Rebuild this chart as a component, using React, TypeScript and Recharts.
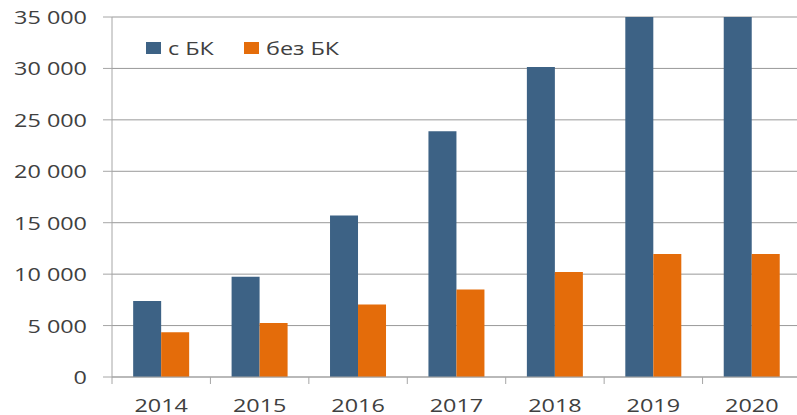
import React from 'react'
import { BarChart, Bar, XAxis, YAxis, CartesianGrid, Legend } from 'recharts'

// values
const years = ['2014', '2015', '2016', '2017', '2018', '2019', '2020']
const withBK = [7400, 9750, 15700, 23900, 30150, 35000, 35000]
const withoutBK = [4350, 5250, 7050, 8500, 10200, 11950, 11950]
const yTicks = [0, 5000, 10000, 15000, 20000, 25000, 30000, 35000]
const seriesNames = ['с БК', 'без БК']

const data = years.map((year, i) => ({ year, a: withBK[i], b: withoutBK[i] }))

const BLUE = '#3d6285'
const ORANGE = '#e46c0a'
const TEXT = '#404040'
const AXIS = '#a6a6a6'
const FONT = '"Open Sans", sans-serif'

const CHART_W = 810
const PLOT_LEFT = 112
const PLOT_RIGHT = 801
const BAND = (PLOT_RIGHT - PLOT_LEFT) / years.length

const fmt = (v: number) => String(v).replace(/\B(?=(\d{3})+(?!\d))/g, ' ')

const YTick = (props: any) => {
  const { x, y, payload } = props
  return (
    <g>
      <line x1={x - 9} x2={x} y1={y} y2={y} stroke={AXIS} />
      <text
        transform={`translate(${x - 25},${y + 7}) scale(1.3,1)`}
        textAnchor="end"
        fontSize={18}
        fontFamily={FONT}
        fill={TEXT}
      >
        {fmt(payload.value)}
      </text>
    </g>
  )
}

const XTick = (props: any) => {
  const { x, y, payload, index } = props
  return (
    <g>
      <line x1={x - BAND / 2} x2={x - BAND / 2} y1={y} y2={y + 7} stroke={AXIS} />
      {index === years.length - 1 && (
        <line x1={x + BAND / 2} x2={x + BAND / 2} y1={y} y2={y + 7} stroke={AXIS} />
      )}
      <text
        transform={`translate(${x},${y + 35}) scale(1.3,1)`}
        textAnchor="middle"
        fontSize={18}
        fontFamily={FONT}
        fill={TEXT}
      >
        {payload.value}
      </text>
    </g>
  )
}

const LegendBox = () => (
  <div style={{ position: 'relative', width: 220, height: 0 }}>
    {seriesNames.map((name, i) => (
      <div
        key={name}
        style={{ position: 'absolute', left: i * 98, top: 0, display: 'flex', alignItems: 'center', height: 20 }}
      >
        <span style={{ display: 'inline-block', width: 15, height: 12, background: i === 0 ? BLUE : ORANGE }} />
        <span
          style={{
            display: 'inline-block',
            marginLeft: 7,
            fontFamily: FONT,
            fontSize: 18,
            color: TEXT,
            transform: 'scaleX(1.3)',
            transformOrigin: 'left center',
            whiteSpace: 'nowrap',
            lineHeight: '20px',
          }}
        >
          {name}
        </span>
      </div>
    ))}
  </div>
)

export default function App() {
  return (
    <div style={{ position: 'fixed', left: 0, top: 0, width: 797, height: 415, overflow: 'hidden', background: '#fff' }}>
      <BarChart
        width={CHART_W}
        height={420}
        data={data}
        margin={{ top: 17, right: CHART_W - PLOT_RIGHT, left: 0, bottom: 0 }}
        barCategoryGap="21.5%"
        barGap={0}
      >
        <CartesianGrid vertical={false} stroke="#999" />
        <XAxis
          dataKey="year"
          height={43}
          tickSize={0}
          tickMargin={0}
          tickLine={false}
          axisLine={{ stroke: AXIS }}
          tick={<XTick />}
          interval={0}
        />
        <YAxis
          width={PLOT_LEFT}
          domain={[0, 35000]}
          ticks={yTicks}
          allowDataOverflow
          tickSize={0}
          tickMargin={0}
          tickLine={false}
          axisLine={{ stroke: AXIS }}
          tick={<YTick />}
          interval={0}
        />
        <Legend
          content={<LegendBox />}
          wrapperStyle={{ position: 'absolute', top: 38, left: 146, width: 220, height: 0, overflow: 'visible' }}
        />
        <Bar dataKey="a" name={seriesNames[0]} fill={BLUE} isAnimationActive={false} />
        <Bar dataKey="b" name={seriesNames[1]} fill={ORANGE} isAnimationActive={false} />
      </BarChart>
    </div>
  )
}
